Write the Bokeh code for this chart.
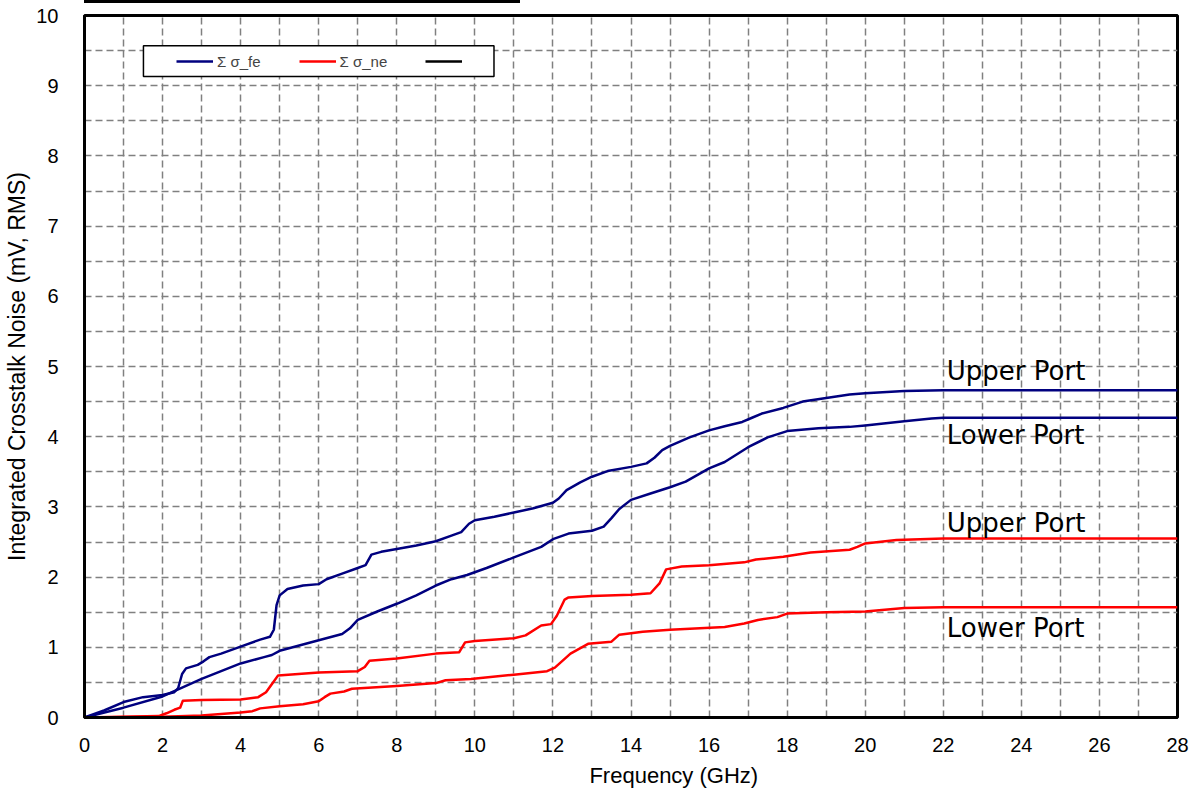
from bokeh.plotting import figure
from bokeh.models import (Range1d, SingleIntervalTicker, Legend, LegendItem,
                          BoxAnnotation, Label, Div)
from bokeh.layouts import column
from bokeh.embed import file_html
from bokeh.resources import INLINE

nan = float("nan")

# ---------------- data ----------------
fe_upper_x = [0, 0.5, 1.0, 1.5, 2.0, 2.3, 2.4, 2.5, 2.6, 2.9, 3.05, 3.2, 3.5, 4.0, 4.5, 4.75, 4.85,
              4.92, 5.0, 5.2, 5.6, 6.0, 6.2, 6.6, 7.0, 7.2, 7.35, 7.6, 8.0, 8.5, 9.0, 9.4, 9.65,
              9.85, 10.0, 10.5, 11.0, 11.5, 12.0, 12.15, 12.35, 12.7, 13.0, 13.4, 14.0, 14.4,
              14.6, 14.8, 15.0, 15.5, 16.0, 16.4, 16.85, 17.1, 17.35, 17.9, 18.4, 19.0, 19.6,
              20.0, 21.0, 22.0, 28.0]
fe_upper_y = [0, 0.10, 0.22, 0.29, 0.32, 0.36, 0.42, 0.62, 0.70, 0.75, 0.80, 0.86, 0.91, 1.01,
              1.11, 1.15, 1.25, 1.60, 1.74, 1.83, 1.88, 1.90, 1.97, 2.05, 2.13, 2.17, 2.32, 2.36,
              2.40, 2.45, 2.51, 2.59, 2.64, 2.76, 2.81, 2.86, 2.92, 2.98, 3.06, 3.12, 3.24, 3.35,
              3.43, 3.51, 3.57, 3.62, 3.70, 3.81, 3.87, 3.99, 4.09, 4.15, 4.21, 4.27, 4.33, 4.41,
              4.50, 4.55, 4.60, 4.62, 4.65, 4.66, 4.66]

fe_lower_x = [0, 1.0, 2.0, 2.4, 3.0, 4.0, 4.6, 4.8, 5.0, 6.0, 6.6, 6.8, 7.0, 7.5, 8.0, 8.5, 9.0,
              9.4, 9.8, 10.3, 11.0, 11.7, 12.0, 12.4, 13.0, 13.3, 13.5, 13.7, 14.0, 14.5, 15.0,
              15.4, 16.0, 16.4, 17.0, 17.5, 18.0, 18.8, 19.6, 20.0, 21.0, 21.7, 22.0, 28.0]
fe_lower_y = [0, 0.14, 0.30, 0.40, 0.55, 0.77, 0.86, 0.89, 0.95, 1.10, 1.19, 1.27, 1.39, 1.51,
              1.62, 1.74, 1.88, 1.97, 2.03, 2.13, 2.28, 2.43, 2.54, 2.62, 2.66, 2.72, 2.84, 2.97,
              3.10, 3.19, 3.28, 3.36, 3.55, 3.64, 3.85, 3.99, 4.08, 4.12, 4.14, 4.16, 4.22, 4.26,
              4.27, 4.27]

ne_upper_x = [0, 1.9, 2.1, 2.3, 2.45, 2.52, 3.0, 4.0, 4.45, 4.65, 4.83, 4.96, 6.0, 7.0, 7.18,
              7.3, 8.0, 9.0, 9.6, 9.75, 10.0, 11.0, 11.3, 11.7, 11.95, 12.1, 12.3, 12.4, 13.0,
              14.0, 14.5, 14.73, 14.9, 15.3, 16.0, 16.9, 17.2, 17.9, 18.6, 19.6, 19.8, 20.0,
              20.8, 22.0, 28.0]
ne_upper_y = [0, 0.02, 0.06, 0.11, 0.14, 0.24, 0.25, 0.255, 0.29, 0.36, 0.50, 0.60, 0.64, 0.66,
              0.72, 0.81, 0.84, 0.91, 0.93, 1.07, 1.09, 1.13, 1.17, 1.31, 1.33, 1.45, 1.68, 1.71,
              1.73, 1.75, 1.77, 1.91, 2.11, 2.15, 2.17, 2.21, 2.25, 2.29, 2.35, 2.39, 2.43, 2.48,
              2.53, 2.55, 2.55]

ne_lower_x = [0, 2.0, 3.0, 4.0, 4.3, 4.5, 5.0, 5.6, 6.0, 6.15, 6.3, 6.65, 6.85, 8.0, 9.0, 9.25,
              9.9, 11.0, 11.85, 12.05, 12.45, 12.9, 13.5, 13.7, 14.3, 15.0, 16.4, 16.9, 17.25,
              17.75, 18.0, 19.0, 20.0, 21.0, 22.0, 28.0]
ne_lower_y = [0, 0.01, 0.03, 0.07, 0.09, 0.13, 0.16, 0.19, 0.23, 0.29, 0.34, 0.37, 0.41, 0.45,
              0.49, 0.53, 0.55, 0.61, 0.66, 0.71, 0.91, 1.05, 1.08, 1.18, 1.22, 1.25, 1.29, 1.34,
              1.39, 1.43, 1.48, 1.50, 1.51, 1.56, 1.57, 1.57]

# third (black) legend series has no visible data in the reference
third_x = [nan]
third_y = [nan]

legend_labels = ["\u03a3 \u03c3_fe", "\u03a3 \u03c3_ne", "\u00a0"]
port_labels = ["Upper Port", "Lower Port", "Upper Port", "Lower Port"]
port_label_x = [22.09, 22.09, 22.09, 22.09]
port_label_y = [4.94, 4.03, 2.77, 1.28]

x_title = "Frequency (GHz)"
y_title = "Integrated Crosstalk Noise (mV, RMS)"

x_ticks = list(range(0, 29, 2))
y_ticks = list(range(0, 11, 1))

# ---------------- figure ----------------
p = figure(width=1191, height=788, output_backend="svg", toolbar_location=None,
           x_range=Range1d(0, 28), y_range=Range1d(0, 10),
           min_border_left=84, min_border_right=14, min_border_top=12, min_border_bottom=74,
           background_fill_color="white", border_fill_color="white", margin=0)

p.outline_line_color = "black"
p.outline_line_width = 3

for ax in (p.xaxis[0], p.yaxis[0]):
    ax.axis_line_color = "black"
    ax.axis_line_width = 3
    ax.major_tick_line_color = None
    ax.minor_tick_line_color = None
    ax.major_label_text_font = "Liberation Sans"
    ax.major_label_text_font_size = "20px"
    ax.major_label_text_color = "black"
    ax.axis_label_text_font = "Liberation Sans"
    ax.axis_label_text_font_style = "normal"
    ax.axis_label_text_color = "black"

p.xaxis.ticker = x_ticks
p.yaxis.ticker = y_ticks
p.yaxis.axis_label = y_title
p.yaxis.axis_label_text_font_size = "23px"
# the x title sits right of the frame centre in the reference: pad with no-break spaces
p.xaxis.axis_label = "\u00a0" * 14 + x_title
p.xaxis.axis_label_text_font_size = "22px"
p.xaxis.major_label_standoff = 14
p.yaxis.major_label_standoff = 20
p.xaxis.axis_label_standoff = 8
p.yaxis.axis_label_standoff = 3

p.xgrid.ticker = SingleIntervalTicker(interval=1)
p.ygrid.ticker = SingleIntervalTicker(interval=0.5)
for g in (p.xgrid[0], p.ygrid[0]):
    g.grid_line_color = "#808080"
    g.grid_line_width = 1.5
    g.grid_line_dash = "7 4"

r_fe_u = p.line(fe_upper_x, fe_upper_y, line_color="#00007F", line_width=2.5, line_join="round")
r_fe_l = p.line(fe_lower_x, fe_lower_y, line_color="#00007F", line_width=2.5, line_join="round")
r_ne_u = p.line(ne_upper_x, ne_upper_y, line_color="#FF0000", line_width=2.5, line_join="round")
r_ne_l = p.line(ne_lower_x, ne_lower_y, line_color="#FF0000", line_width=2.5, line_join="round")
r_third = p.line(third_x, third_y, line_color="black", line_width=2.5)

for t, lx, ly in zip(port_labels, port_label_x, port_label_y):
    p.add_layout(Label(x=lx, y=ly, text=t, text_font="DejaVu Sans", text_font_size="26px",
                       text_color="black", text_baseline="middle", text_align="left"))

# legend frame (white box with black border)
p.add_layout(BoxAnnotation(left=1.51, right=10.49, top=9.57, bottom=9.13,
                           fill_color="white", fill_alpha=1.0,
                           line_color="black", line_alpha=1.0, line_width=1.5,
                           level="annotation"))

legend = Legend(items=[LegendItem(label=legend_labels[0], renderers=[r_fe_u]),
                       LegendItem(label=legend_labels[1], renderers=[r_ne_u]),
                       LegendItem(label=legend_labels[2], renderers=[r_third])],
                orientation="horizontal", location=(87, 641), margin=0,
                padding=5, spacing=38, glyph_width=37, glyph_height=20,
                label_height=20, label_standoff=4,
                label_text_font="Liberation Sans", label_text_font_size="15px",
                border_line_alpha=0, background_fill_alpha=0)
p.add_layout(legend)

# black bar above the plot
bar = Div(text="", width=436, height=3, margin=(0, 0, 0, 84),
          styles={"background-color": "black"})

layout = column(bar, p, spacing=0, margin=0)

open("out.html", "w").write(file_html(layout, INLINE))
